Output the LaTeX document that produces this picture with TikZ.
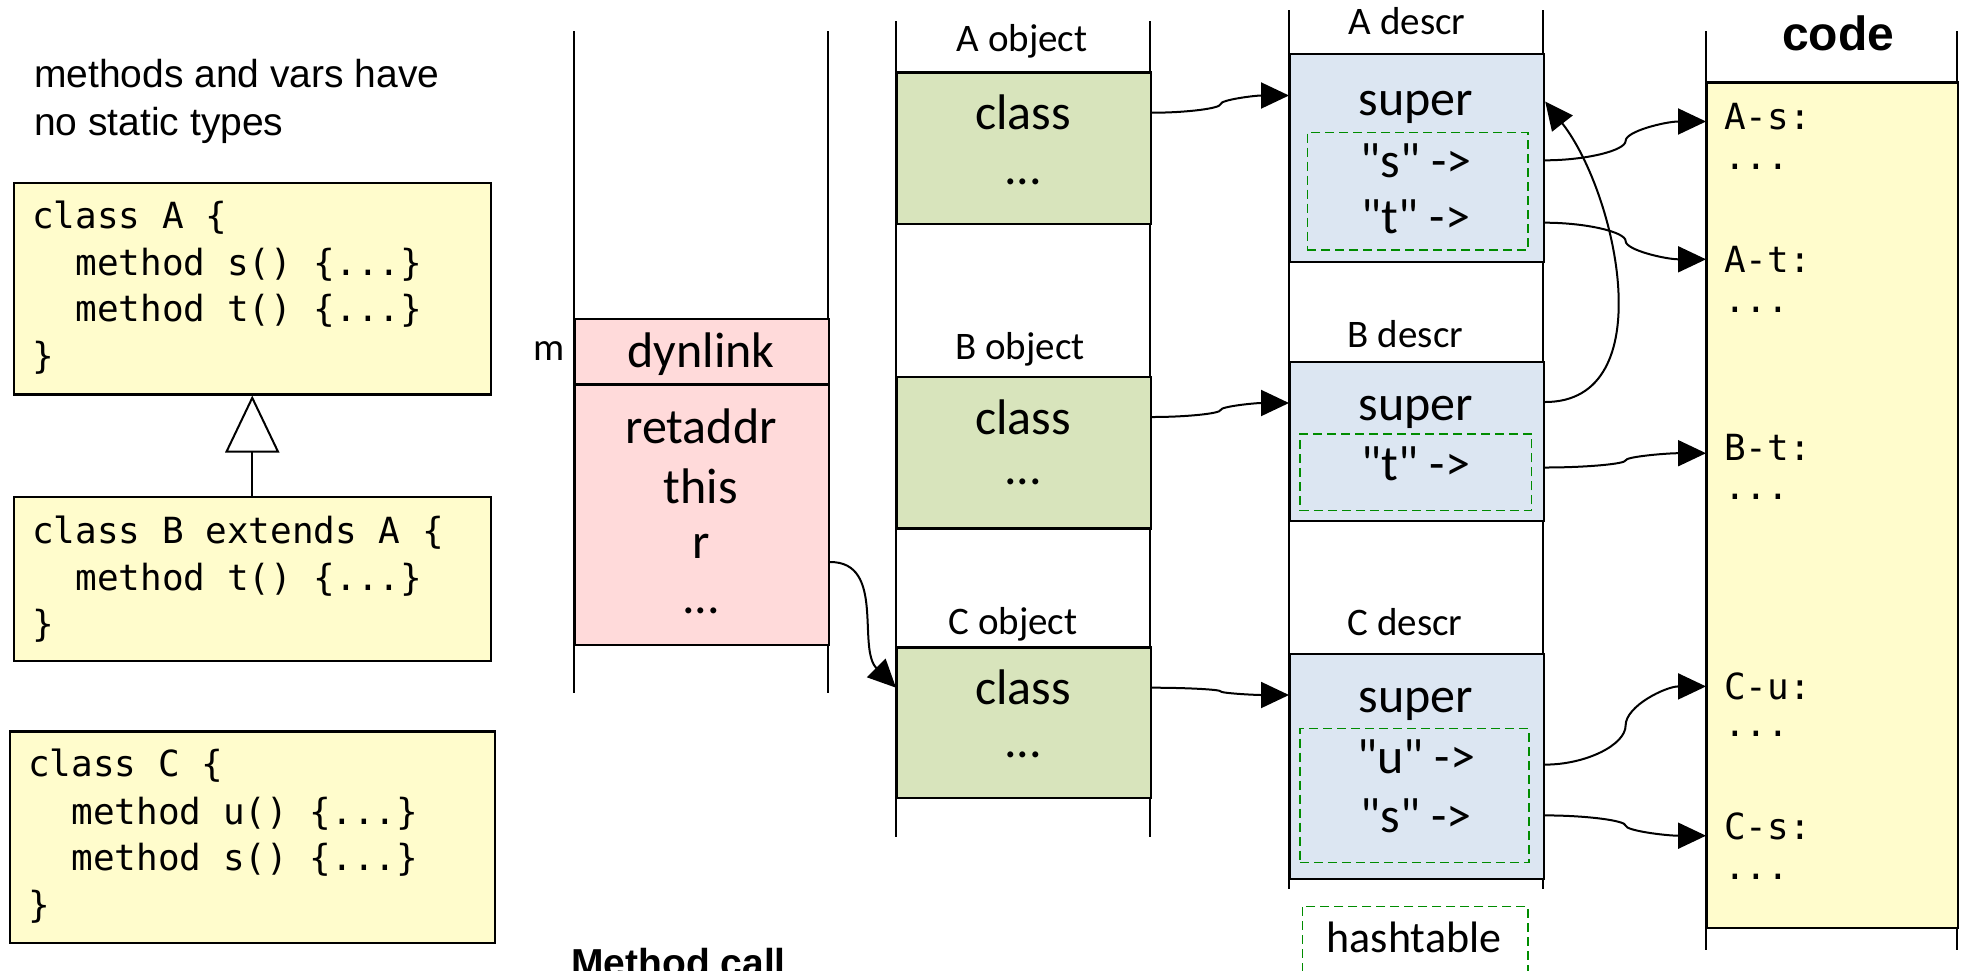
\documentclass[tikz,border=0pt]{standalone}
\usepackage{fontspec}
\setmainfont{Carlito}
\setmonofont{DejaVu Sans Mono}
\newfontfamily\arialf{Liberation Sans}
\usetikzlibrary{arrows.meta,calc}
\definecolor{yel}{RGB}{255,252,204}
\definecolor{pinkc}{RGB}{255,218,218}
\definecolor{grn}{RGB}{216,228,188}
\definecolor{blu}{RGB}{220,230,242}
\definecolor{dgreen}{RGB}{0,140,0}
\newcommand{\qq}[1]{\textquotedbl#1\textquotedbl{} ->}
\begin{document}
\begin{tikzpicture}[x=1pt,y=-1pt,
  cell/.style={draw, line width=2.2pt, inner sep=0pt, anchor=north west},
  colline/.style={line width=2pt},
  lbl/.style={inner sep=0pt, font=\fontsize{39}{47}\selectfont},
  big/.style={inner sep=0pt, font=\fontsize{50}{60}\selectfont},
  mono/.style={inner sep=0pt, anchor=west, font=\ttfamily\fontsize{36}{44}\selectfont},
  hashbox/.style={draw=dgreen, dash pattern=on 9pt off 5pt, line width=1.6pt, inner sep=0pt, anchor=north west},
  link/.style={line width=2pt, -{Triangle[length=28pt,width=26pt]}},
  pconn/.style={to path={let \p1=(\tikztostart), \p2=(\tikztotarget) in
      .. controls ({(3*\x1+\x2)/4},\y1) and ({(\x1+\x2)/2},{(3*\y1+\y2)/4}) ..
      ({(\x1+\x2)/2},{(\y1+\y2)/2})
      .. controls ({(\x1+\x2)/2},{(\y1+3*\y2)/4}) and ({(\x1+3*\x2)/4},\y2) ..
      (\tikztotarget) \tikztonodes}},
  arialtxt/.style={inner sep=0pt, anchor=base west, font=\arialf\fontsize{39}{47}\selectfont},
]
\useasboundingbox (0,0) rectangle (1964,970);

% column side lines
\draw[colline] (574,31.3) -- (574,692.7) (828,31.3) -- (828,692.7);
\draw[colline] (896,21.3) -- (896,836.7) (1150,21.3) -- (1150,836.7);
\draw[colline] (1289,10) -- (1289,889.3) (1543,10) -- (1543,889.3);
\draw[colline] (1706,31.3) -- (1706,950) (1957,31.3) -- (1957,950);

% left notes and classes
\node[arialtxt] (n1) at (34,87.5) {methods and vars have};
\node[arialtxt] (n2) at (34,135.5) {no static types};

\node[cell, fill=yel, minimum width=477.3pt, minimum height=211.7pt] (clsA) at (12.5,181.6) {};
\node[cell, fill=yel, minimum width=477.3pt, minimum height=164pt] (clsB) at (12.5,496) {};
\node[cell, fill=yel, minimum width=484.7pt, minimum height=211.7pt] (clsC) at (8.8,730.3) {};

\node[mono] (a1) at (32,217.5) {class A \{};
\node[mono] (a2) at (32,265) {\phantom{mm}method s() \{...\}};
\node[mono] (a3) at (32,310.5) {\phantom{mm}method t() \{...\}};
\node[mono] (a4) at (32,358) {\}};
\node[mono] (b1) at (32,533) {class B extends A \{};
\node[mono] (b2) at (32,579.5) {\phantom{mm}method t() \{...\}};
\node[mono] (b3) at (32,626) {\}};
\node[mono] (c1) at (28,766) {class C \{};
\node[mono] (c2) at (28,814) {\phantom{mm}method u() \{...\}};
\node[mono] (c3) at (28,860) {\phantom{mm}method s() \{...\}};
\node[mono] (c4) at (28,906.5) {\}};

\draw[line width=2pt, -{Triangle[open, length=57pt, width=54pt]}] (clsB.north) -- (clsA.south);

\node[inner sep=0pt, anchor=base west, font=\arialf\bfseries\fontsize{39}{47}\selectfont] (mcall) at (571,976) {Method call};

% stack frame
\node[cell, fill=pinkc, minimum width=254pt, minimum height=65.1pt] (dyncell) at (574,318.2) {};
\node[cell, fill=pinkc, minimum width=254pt, minimum height=260.5pt] (frame) at (574,383.3) {};
\node[lbl] (mlab) at (549,351) {m};
\node[big] (dyn) at (701,354.5) {dynlink};
\node[big] (ret) at (701,425.9) {retaddr};
\node[big] (thisv) at (701,486) {this};
\node[big] (rv) at (701,546) {r};
\node[big] (fdots) at (701,611) {...};

% objects
\node[cell, fill=grn, minimum width=254pt, minimum height=151.6pt] (aobj) at (896,71.4) {};
\node[cell, fill=grn, minimum width=254pt, minimum height=151.5pt] (bobj) at (896,375.8) {};
\node[cell, fill=grn, minimum width=254pt, minimum height=150.4pt] (cobj) at (896,646.3) {};
\node[lbl] (aobjl) at (1022,41.3) {A object};
\node[lbl] (bobjl) at (1020,349.5) {B object};
\node[lbl] (cobjl) at (1013,623.8) {C object};
\node[big] (acls) at (1023,112.7) {class};
\node[big] (adots) at (1023,181.6) {...};
\node[big] (bcls) at (1023,417) {class};
\node[big] (bdots) at (1023,482) {...};
\node[big] (ccls) at (1023,687.7) {class};
\node[big] (cdots) at (1023,755.3) {...};

% descriptors
\node[cell, fill=blu, minimum width=254pt, minimum height=207.9pt] (adescr) at (1289,52.6) {};
\node[cell, fill=blu, minimum width=254pt, minimum height=159.1pt] (bdescr) at (1289,360.7) {};
\node[cell, fill=blu, minimum width=254pt, minimum height=225.4pt] (cdescr) at (1289,652.6) {};
\node[hashbox, minimum width=220.5pt, minimum height=117.8pt] (aht) at (1306.5,131.5) {};
\node[hashbox, minimum width=231.7pt, minimum height=76.4pt] (bht) at (1299,433.4) {};
\node[hashbox, minimum width=229pt, minimum height=134pt] (cht) at (1299,727.8) {};
\node[hashbox, minimum width=225.5pt, minimum height=80pt] (hkey) at (1301.5,905.6) {};
\node[inner sep=0pt, font=\fontsize{44}{52}\selectfont] (htl) at (1414,937) {hashtable};
\node[lbl] (adl) at (1407,21.3) {A descr};
\node[lbl] (bdl) at (1405.5,334.4) {B descr};
\node[lbl] (cdl) at (1405,622.5) {C descr};
\node[big] (asup) at (1416,107.5) {super};
\node[big] (ask) at (1416,160.3) {\qq{s}};
\node[big] (atk) at (1416,216.7) {\qq{t}};
\node[big] (bsup) at (1416,412) {super};
\node[big] (btk) at (1416,463.5) {\qq{t}};
\node[big] (csup) at (1416,704) {super};
\node[big] (cuk) at (1416,756.6) {\qq{u}};
\node[big] (csk) at (1416,815.4) {\qq{s}};

% code
\node[cell, fill=yel, minimum width=251pt, minimum height=845.6pt] (codebox) at (1706,81.4) {};
\node[inner sep=0pt, font=\arialf\bfseries\fontsize{48}{56}\selectfont] (codet) at (1838,33) {code};
\node[mono] (cAs) at (1724,116.5) {A-s:};
\node[mono] (dAs) at (1724,166.6) {...};
\node[mono] (cAt) at (1724,259.3) {A-t:};
\node[mono] (dAt) at (1724,309.4) {...};
\node[mono] (cBt) at (1724,447.2) {B-t:};
\node[mono] (dBt) at (1724,497.3) {...};
\node[mono] (cCu) at (1724,686.4) {C-u:};
\node[mono] (dCu) at (1724,734) {...};
\node[mono] (cCs) at (1724,826.7) {C-s:};
\node[mono] (dCs) at (1724,876.8) {...};

% connectors
\draw[link] (aobj.east |- acls) to[pconn] ($(adescr.west |- asup)+(0,-12)$);
\draw[link] (bobj.east |- bcls) to[pconn] ($(bdescr.west |- bsup)+(0,-9)$);
\draw[link] (cobj.east |- ccls) to[pconn] ($(cdescr.west |- csup)+(0,-9)$);
\draw[link] ($(frame.east |- rv)+(0,16)$) to[out=0,in=135] (cobj.west |- ccls);
\draw[link] ($(bdescr.east |- bsup)+(0,-10)$) to[out=0,in=-52] ($(adescr.east |- asup)+(0,-6)$);
\draw[link] (adescr.east |- ask) to[pconn] ($(codebox.west |- cAs)+(0,5)$);
\draw[link] ($(adescr.east |- atk)+(0,6)$) to[pconn] (codebox.west |- cAt);
\draw[link] ($(bdescr.east |- btk)+(0,4)$) to[pconn] ($(codebox.west |- cBt)+(0,6)$);
\draw[link] ($(cdescr.east |- cuk)+(0,8)$) to[pconn] (codebox.west |- cCu);
\draw[link] (cdescr.east |- csk) to[pconn] ($(codebox.west |- cCs)+(0,9)$);
\end{tikzpicture}
\end{document}
